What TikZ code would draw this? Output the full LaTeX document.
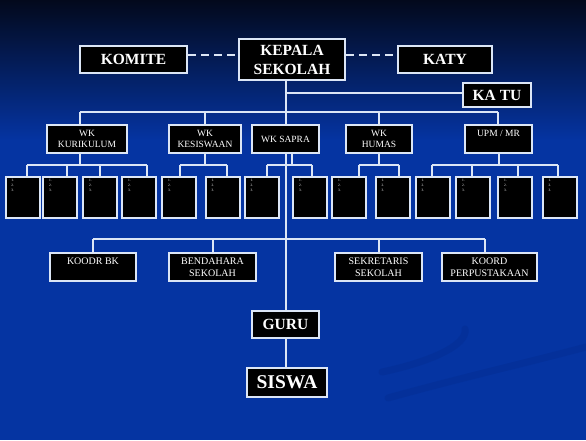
\documentclass[tikz,border=0pt]{standalone}
\usepackage{fontspec}
\setmainfont{Liberation Serif}
\usetikzlibrary{calc}

\definecolor{bgtop}{RGB}{3,9,28}
\definecolor{bgmid}{RGB}{8,34,110}
\definecolor{bgblue}{RGB}{5,52,162}
\definecolor{rulecol}{RGB}{220,230,246}
\definecolor{swooshcol}{RGB}{4,42,140}

\tikzset{
  orgbox/.style={draw=rulecol, line width=2pt, fill=black, text=white, inner sep=0pt, align=center},
  bigbox/.style={orgbox, font=\fontsize{15.5}{19}\selectfont\bfseries},
  wkbox/.style={orgbox, minimum height=28, font=\fontsize{9.5}{11.7}\selectfont},
  lowbox/.style={orgbox, minimum height=28, font=\fontsize{10}{12.5}\selectfont},
  subbox/.style={orgbox, minimum width=34, minimum height=41},
  orgline/.style={draw=rulecol, line width=2pt},
  dashline/.style={orgline, dash pattern=on 8pt off 5pt},
  swoosh/.style={draw=swooshcol, line width=7pt, line cap=round, opacity=0.35},
}
\newcommand{\subtxt}{\parbox[c][37pt][t]{30pt}{\fontsize{3.5}{5}\selectfont\hspace*{4pt}1.\\\hspace*{4pt}2.\\\hspace*{4pt}3.}}

\begin{document}
\begin{tikzpicture}[x=1pt,y=1pt,yscale=-1,xscale=1]
    \useasboundingbox (0,0) rectangle (586,440);

    %Background
    \shade [top color=bgtop, middle color=bgmid, bottom color=bgblue] (0,0) rectangle (586,140);
    \fill [bgblue] (0,140) rectangle (586,440);
    \draw [swoosh] (382,372) .. controls (430,362) and (468,345) .. (465,329);
    \draw [swoosh] (388,398) .. controls (460,378) and (530,362) .. (586,347);

    % Top row
    \node [bigbox, minimum width=107, minimum height=27] (komite) at (133.5,59.5) {KOMITE};
    \node [bigbox, minimum width=106, minimum height=41] (kepala) at (292,59.5) {KEPALA\\SEKOLAH};
    \node [bigbox, minimum width=94, minimum height=27] (katy) at (445,59.5) {KATY};
    \node [bigbox, minimum width=68, minimum height=24] (katu) at (497,95) {KA TU};

    % Wakil kepala
    \node [wkbox, minimum width=80] (kur) at (87,139) {WK\\KURIKULUM};
    \node [wkbox, minimum width=72] (kes) at (205,139) {WK\\KESISWAAN};
    \node [wkbox, minimum width=67] (sap) at (285.5,139) {WK SAPRA};
    \node [wkbox, minimum width=66] (hum) at (379,139) {WK\\HUMAS};
    \node [wkbox, minimum width=67] (upm) at (498.5,139) {UPM / MR\\~};

    % Sub boxes
    \foreach \n/\x in {1/22.5,2/60,3/100,4/139,5/179,6/222.5,7/261.5,8/310,9/349,10/392.5,11/432.5,12/473,13/515,14/559.5}
      \node [subbox] (s\n) at (\x,197.5) {\subtxt};

    % Lower row
    \node [lowbox, minimum width=86] (koodr) at (93,267) {KOODR BK\\~};
    \node [lowbox, minimum width=87] (bend) at (212.5,267) {BENDAHARA\\SEKOLAH};
    \node [lowbox, minimum width=87] (sekr) at (378.5,267) {SEKRETARIS\\SEKOLAH};
    \node [lowbox, minimum width=95] (koord) at (489.5,267) {KOORD\\PERPUSTAKAAN};

    \node [bigbox, minimum width=67, minimum height=27] (guru) at (285.5,324.5) {GURU};
    \node [bigbox, minimum width=80, minimum height=29, font=\fontsize{19.5}{22}\selectfont\bfseries] (siswa) at (287,382.5) {SISWA};

    % Dashed links
    \draw [dashline] ($(komite.east)+(0,-4.5)$) -- ($(komite.east -| kepala.west)+(0,-4.5)$);
    \draw [dashline] ($(kepala.east |- katy.west)+(0,-4.5)$) -- ($(katy.west)+(0,-4.5)$);

    % Trunk
    \draw [orgline] (kepala.south -| guru.north) -- (sap.north -| guru.north);
    \draw [orgline] (sap.south -| guru.north) -- (guru.north);
    \draw [orgline] (guru.south) -- (siswa.north -| guru.south);
    \draw [orgline] (katu.west |- 0,93) -- (guru.north |- 0,93);

    % Upper bus
    \coordinate (busL) at (80,112);
    \coordinate (busR) at (498,112);
    \draw [orgline] (busL) -- (busR);
    \draw [orgline] (busL) -- (busL |- kur.north);
    \draw [orgline] (kes.north |- busL) -- (kes.north);
    \draw [orgline] (hum.north |- busL) -- (hum.north);
    \draw [orgline] (busR) -- (busR |- upm.north);

    % Sub buses
    \draw [orgline] (kur.south -| busL) -- (80,165) (27,165) -- (147,165);
    \draw [orgline] (kes.south) -- (kes.south |- 0,165) (180,165) -- (227,165);
    \draw [orgline] (sap.south -| 292,0) -- (292,165) (267,165) -- (312,165);
    \draw [orgline] (hum.south) -- (hum.south |- 0,165) (359,165) -- (399,165);
    \draw [orgline] (upm.south) -- (upm.south |- 0,165) (432,165) -- (558,165);
    \foreach \x/\b in {27/s1,67/s2,100/s3,147/s4,180/s5,227/s6,267/s7,312/s8,359/s9,399/s10,432/s11,472/s12,518/s13,558/s14}
      \draw [orgline] (\x,165) -- (\x,165 |- \b.north);

    % Lower bus
    \draw [orgline] (93,239) -- (485,239);
    \draw [orgline] (koodr.north |- 0,239) -- (koodr.north);
    \draw [orgline] (bend.north |- 0,239) -- (bend.north);
    \draw [orgline] (sekr.north |- 0,239) -- (sekr.north);
    \draw [orgline] (485,239) -- (485,239 |- koord.north);

\end{tikzpicture}
\end{document}
